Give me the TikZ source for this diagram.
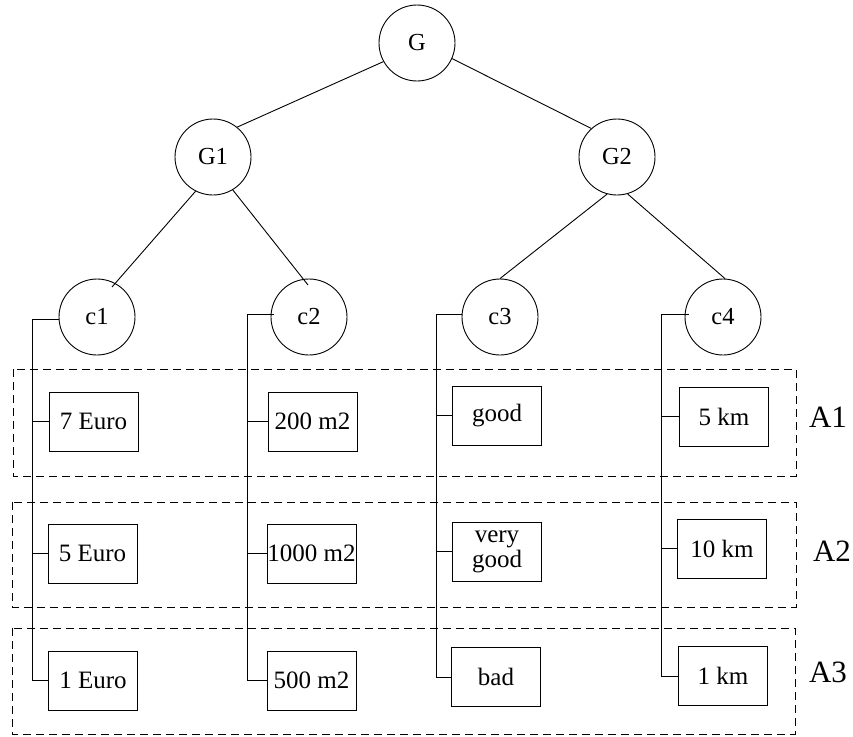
\documentclass[tikz,border=0pt]{standalone}
\usepackage{fontspec}
\setmainfont{Liberation Serif}
\usetikzlibrary{calc}
\begin{document}
\begin{tikzpicture}[x=1pt,y=-1pt,line width=0.9pt,
  goal/.style={circle,draw,minimum size=76pt,inner sep=0pt,font=\fontsize{24.5}{26}\selectfont},
  valbox/.style={rectangle,draw,minimum width=89pt,minimum height=59pt,inner sep=0pt,
    align=center,font=\fontsize{25}{25}\selectfont},
  altframe/.style={draw,dash pattern=on 8pt off 5pt,line width=0.8pt},
  altlabel/.style={font=\fontsize{31}{33}\selectfont,inner sep=0pt},
  link/.style={draw}]
\useasboundingbox (0,0) rectangle (853,736);

% alternative frames
\draw[altframe] (13,369) rectangle (796,476);
\draw[altframe] (12,502) rectangle (796,607);
\draw[altframe] (12,628) rectangle (795,734);
\node[altlabel] (la1) at (828,417) {A1};
\node[altlabel] (la2) at (832,551) {A2};
\node[altlabel] (la3) at (828,672) {A3};

% goal hierarchy
\node[goal] (G)  at (417,43)  {G};
\node[goal] (G1) at (213,157) {G1};
\node[goal] (G2) at (617,157) {G2};
\node[goal] (c1) at (97,317)  {c1};
\node[goal] (c2) at (309,317) {c2};
\node[goal] (c3) at (500,317) {c3};
\node[goal] (c4) at (723,317) {c4};

\draw[link] (G.-151) -- (G1.51);
\draw[link] (G.-24) -- (G2.132);
\draw[link] (G1.-117) -- ($(c1.center)+(15,-30)$);
\draw[link] (G1.-59) -- ($(c2.center)+(-1,-32)$);
\draw[link] (G2.-105) -- (c3.90);
\draw[link] (G2.-74) -- (c4.87);

% attribute values
\node[valbox] (v11) at (93.5,421.5) {7 Euro};
\node[valbox] (v12) at (92.5,553.5) {5 Euro};
\node[valbox] (v13) at (93,680.5)   {1 Euro};
\node[valbox] (v21) at (312.5,421.5) {200 m2};
\node[valbox] (v22) at (311.5,553.5) {1000 m2};
\node[valbox] (v23) at (311.5,680.5) {500 m2};
\node[valbox] (v31) at (497,415.5) {good};
\node[valbox] (v32) at (497,551.5) {very\\good};
\node[valbox] (v33) at (496,677)   {bad};
\node[valbox] (v41) at (724,416.5) {5 km};
\node[valbox] (v42) at (722,548.5) {10 km};
\node[valbox] (v43) at (723,676)   {1 km};

% trunks from criteria to their values
\coordinate (t1) at (32,319);
\coordinate (t2) at (247,314);
\coordinate (t3) at (436,314);
\coordinate (t4) at (661,314);

\draw[link] (c1.west |- t1) -- (t1) |- (v13.west);
\draw[link] (t1 |- v11.west) -- (v11.west);
\draw[link] (t1 |- v12.west) -- (v12.west);

\draw[link] ($(c2.west |- t2)+(3,0)$) -- (t2) |- (v23.west);
\draw[link] (t2 |- v21.west) -- (v21.west);
\draw[link] (t2 |- v22.west) -- (v22.west);

\draw[link] (c3.west |- t3) -- (t3) |- (v33.west);
\draw[link] (t3 |- v31.west) -- (v31.west);
\draw[link] (t3 |- v32.west) -- (v32.west);

\draw[link] ($(c4.west |- t4)+(4,0)$) -- (t4) |- (v43.west);
\draw[link] (t4 |- v41.west) -- (v41.west);
\draw[link] (t4 |- v42.west) -- (v42.west);
\end{tikzpicture}
\end{document}
